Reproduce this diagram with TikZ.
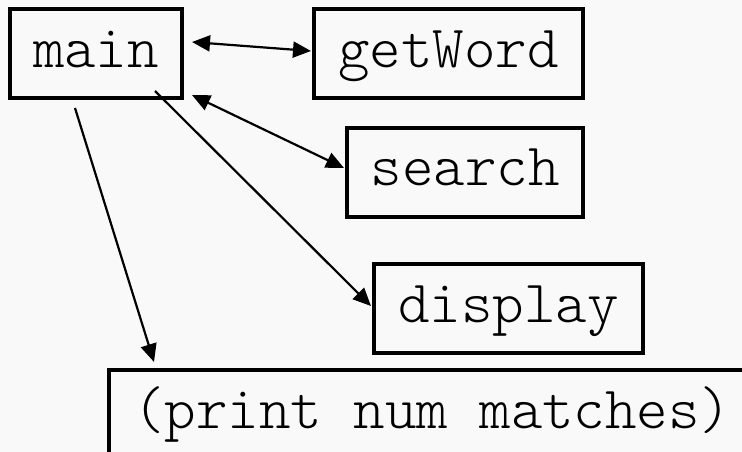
\documentclass[tikz,border=0pt]{standalone}
\usepackage{fontspec}
\setmonofont{Latin Modern Mono Light}
\usetikzlibrary{arrows.meta}
\definecolor{paper}{gray}{0.975}
\begin{document}
\begin{tikzpicture}[x=1pt,y=1pt,
    fn/.style={draw,line width=4pt,inner sep=0pt,minimum height=89pt,
      text height=36pt,text depth=9pt,font=\ttfamily\fontsize{60}{66}\selectfont},
    call/.style={line width=2.2pt,-{Triangle[length=18pt,width=16pt]}},
    both/.style={line width=2.2pt,{Triangle[length=18pt,width=16pt]}-{Triangle[length=18pt,width=16pt]}}]
    \useasboundingbox (0,0) rectangle (742,-452);
    \fill[paper] (0,0) rectangle (742,-452);
    \clip (0,0) rectangle (742,-452);
    \node[fn,minimum width=172pt] (main) at (96,-53.5) {main};
    \node[fn,minimum width=269pt] (getWord) at (448.5,-53.5) {getWord};
    \node[fn,minimum width=236pt] (search) at (465,-172) {search};
    \node[fn,minimum width=269pt] (display) at (508.5,-308.5) {display};
    \node[fn,inner xsep=24pt,anchor=north west] (print) at (107,-368) {(print num matches)};
    \draw[both] ([shift={(8,11.5)}]main.east) -- ([shift={(-1,2.5)}]getWord.west);
    \draw[both] ([shift={(8,5)}]main.south east) -- ([shift={(-1,4)}]search.west);
    \draw[call] ([shift={(59,9)}]main.south) -- ([shift={(-1,2.5)}]display.west);
    \draw[call] ([shift={(-21,-8)}]main.south) -- ([shift={(47,6)}]print.north west);
\end{tikzpicture}
\end{document}
